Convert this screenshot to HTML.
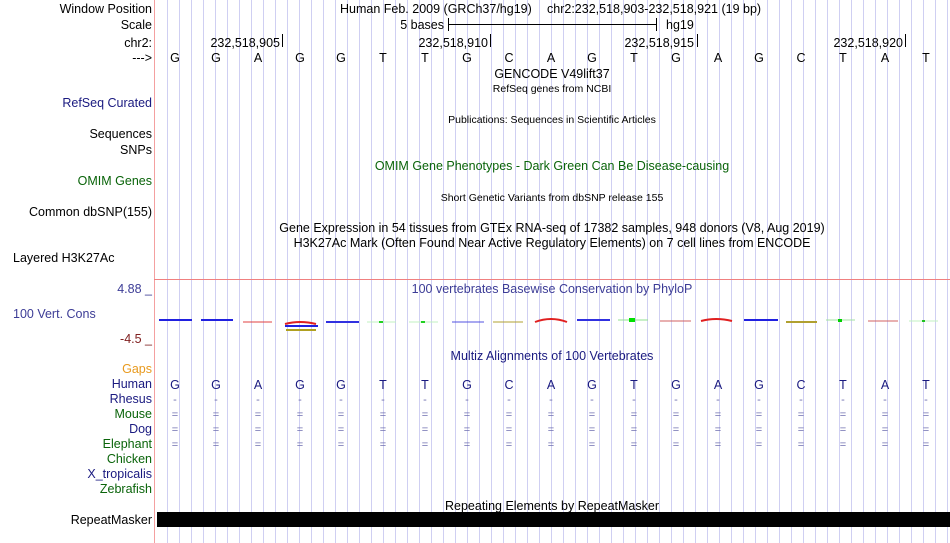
<!DOCTYPE html>
<html><head><meta charset="utf-8"><style>
html,body{margin:0;padding:0;background:#fff;}
svg{display:block;font-family:"Liberation Sans",Arial,sans-serif;font-size:12.5px;}
</style></head><body>
<svg width="950" height="543" xmlns="http://www.w3.org/2000/svg">
<g stroke="#cfcff2" stroke-width="1">
<line x1="167.5" y1="0" x2="167.5" y2="543"/><line x1="179.5" y1="0" x2="179.5" y2="543"/><line x1="191.5" y1="0" x2="191.5" y2="543"/><line x1="203.5" y1="0" x2="203.5" y2="543"/><line x1="215.5" y1="0" x2="215.5" y2="543"/><line x1="227.5" y1="0" x2="227.5" y2="543"/><line x1="239.5" y1="0" x2="239.5" y2="543"/><line x1="251.5" y1="0" x2="251.5" y2="543"/><line x1="263.5" y1="0" x2="263.5" y2="543"/><line x1="275.5" y1="0" x2="275.5" y2="543"/><line x1="287.5" y1="0" x2="287.5" y2="543"/><line x1="299.5" y1="0" x2="299.5" y2="543"/><line x1="311.5" y1="0" x2="311.5" y2="543"/><line x1="323.5" y1="0" x2="323.5" y2="543"/><line x1="335.5" y1="0" x2="335.5" y2="543"/><line x1="347.5" y1="0" x2="347.5" y2="543"/><line x1="359.5" y1="0" x2="359.5" y2="543"/><line x1="371.5" y1="0" x2="371.5" y2="543"/><line x1="383.5" y1="0" x2="383.5" y2="543"/><line x1="395.5" y1="0" x2="395.5" y2="543"/><line x1="407.5" y1="0" x2="407.5" y2="543"/><line x1="419.5" y1="0" x2="419.5" y2="543"/><line x1="431.5" y1="0" x2="431.5" y2="543"/><line x1="443.5" y1="0" x2="443.5" y2="543"/><line x1="455.5" y1="0" x2="455.5" y2="543"/><line x1="467.5" y1="0" x2="467.5" y2="543"/><line x1="479.5" y1="0" x2="479.5" y2="543"/><line x1="491.5" y1="0" x2="491.5" y2="543"/><line x1="503.5" y1="0" x2="503.5" y2="543"/><line x1="515.5" y1="0" x2="515.5" y2="543"/><line x1="527.5" y1="0" x2="527.5" y2="543"/><line x1="539.5" y1="0" x2="539.5" y2="543"/><line x1="551.5" y1="0" x2="551.5" y2="543"/><line x1="563.5" y1="0" x2="563.5" y2="543"/><line x1="575.5" y1="0" x2="575.5" y2="543"/><line x1="587.5" y1="0" x2="587.5" y2="543"/><line x1="599.5" y1="0" x2="599.5" y2="543"/><line x1="611.5" y1="0" x2="611.5" y2="543"/><line x1="623.5" y1="0" x2="623.5" y2="543"/><line x1="635.5" y1="0" x2="635.5" y2="543"/><line x1="647.5" y1="0" x2="647.5" y2="543"/><line x1="659.5" y1="0" x2="659.5" y2="543"/><line x1="671.5" y1="0" x2="671.5" y2="543"/><line x1="683.5" y1="0" x2="683.5" y2="543"/><line x1="695.5" y1="0" x2="695.5" y2="543"/><line x1="707.5" y1="0" x2="707.5" y2="543"/><line x1="719.5" y1="0" x2="719.5" y2="543"/><line x1="731.5" y1="0" x2="731.5" y2="543"/><line x1="743.5" y1="0" x2="743.5" y2="543"/><line x1="755.5" y1="0" x2="755.5" y2="543"/><line x1="767.5" y1="0" x2="767.5" y2="543"/><line x1="779.5" y1="0" x2="779.5" y2="543"/><line x1="791.5" y1="0" x2="791.5" y2="543"/><line x1="803.5" y1="0" x2="803.5" y2="543"/><line x1="815.5" y1="0" x2="815.5" y2="543"/><line x1="827.5" y1="0" x2="827.5" y2="543"/><line x1="839.5" y1="0" x2="839.5" y2="543"/><line x1="851.5" y1="0" x2="851.5" y2="543"/><line x1="863.5" y1="0" x2="863.5" y2="543"/><line x1="875.5" y1="0" x2="875.5" y2="543"/><line x1="887.5" y1="0" x2="887.5" y2="543"/><line x1="899.5" y1="0" x2="899.5" y2="543"/><line x1="911.5" y1="0" x2="911.5" y2="543"/><line x1="923.5" y1="0" x2="923.5" y2="543"/><line x1="935.5" y1="0" x2="935.5" y2="543"/><line x1="947.5" y1="0" x2="947.5" y2="543"/>
</g>
<line x1="154.5" y1="0" x2="154.5" y2="543" stroke="#f4a0a0"/>
<line x1="154" y1="279.5" x2="950" y2="279.5" stroke="#f08080"/>

<g text-anchor="end">
<text x="152" y="13">Window Position</text>
<text x="152" y="29">Scale</text>
<text x="152" y="47">chr2:</text>
<text x="152" y="62">---&gt;</text>
<text x="152" y="107" fill="#1a1a80">RefSeq Curated</text>
<text x="152" y="138">Sequences</text>
<text x="152" y="154">SNPs</text>
<text x="152" y="185" fill="#0a640a">OMIM Genes</text>
<text x="152" y="216">Common dbSNP(155)</text>
<text x="152" y="293" fill="#3c3c96">4.88 _</text>
<text x="152" y="343" fill="#802020">-4.5 _</text>
<text x="152" y="373" fill="#e89a1e">Gaps</text>
<text x="152" y="388" fill="#1a1a80">Human</text>
<text x="152" y="403" fill="#1a1a80">Rhesus</text>
<text x="152" y="418" fill="#0a640a">Mouse</text>
<text x="152" y="433" fill="#1a1a80">Dog</text>
<text x="152" y="448" fill="#0a640a">Elephant</text>
<text x="152" y="463" fill="#0a640a">Chicken</text>
<text x="152" y="478" fill="#1a1a80">X_tropicalis</text>
<text x="152" y="493" fill="#0a640a">Zebrafish</text>
<text x="152" y="524">RepeatMasker</text>
</g>
<text x="13" y="262">Layered H3K27Ac</text>
<text x="13" y="318" fill="#3c3c96">100 Vert. Cons</text>

<text x="340" y="13">Human Feb. 2009 (GRCh37/hg19)</text>
<text x="547" y="13">chr2:232,518,903-232,518,921 (19 bp)</text>
<text x="444" y="29" text-anchor="end">5 bases</text>
<g stroke="#000"><line x1="448" y1="24.5" x2="656" y2="24.5"/><line x1="448.5" y1="18" x2="448.5" y2="31"/><line x1="656.5" y1="18" x2="656.5" y2="31"/></g>
<text x="666" y="29">hg19</text>
<g text-anchor="end"><text x="280" y="47">232,518,905</text><text x="488" y="47">232,518,910</text><text x="694" y="47">232,518,915</text><text x="903" y="47">232,518,920</text></g>
<g stroke="#000"><line x1="282.5" y1="34" x2="282.5" y2="47"/><line x1="490.5" y1="34" x2="490.5" y2="47"/><line x1="697.5" y1="34" x2="697.5" y2="47"/><line x1="905.5" y1="34" x2="905.5" y2="47"/></g>
<g text-anchor="middle">
<text y="62"><tspan x="175">G</tspan><tspan x="216">G</tspan><tspan x="258">A</tspan><tspan x="300">G</tspan><tspan x="341">G</tspan><tspan x="383">T</tspan><tspan x="425">T</tspan><tspan x="467">G</tspan><tspan x="509">C</tspan><tspan x="551">A</tspan><tspan x="592">G</tspan><tspan x="634">T</tspan><tspan x="676">G</tspan><tspan x="718">A</tspan><tspan x="759">G</tspan><tspan x="801">C</tspan><tspan x="843">T</tspan><tspan x="885">A</tspan><tspan x="926">T</tspan></text>
<text x="552" y="78">GENCODE V49lift37</text>
<text x="552" y="92" font-size="10.5">RefSeq genes from NCBI</text>
<text x="552" y="123" font-size="10.5">Publications: Sequences in Scientific Articles</text>
<text x="552" y="170" fill="#0a640a">OMIM Gene Phenotypes - Dark Green Can Be Disease-causing</text>
<text x="552" y="201" font-size="10.5">Short Genetic Variants from dbSNP release 155</text>
<text x="552" y="232">Gene Expression in 54 tissues from GTEx RNA-seq of 17382 samples, 948 donors (V8, Aug 2019)</text>
<text x="552" y="247">H3K27Ac Mark (Often Found Near Active Regulatory Elements) on 7 cell lines from ENCODE</text>
<text x="552" y="293" fill="#3c3c96">100 vertebrates Basewise Conservation by PhyloP</text>
<text x="552" y="360" fill="#1a1a80">Multiz Alignments of 100 Vertebrates</text>
<text y="389" fill="#1a1a80"><tspan x="175">G</tspan><tspan x="216">G</tspan><tspan x="258">A</tspan><tspan x="300">G</tspan><tspan x="341">G</tspan><tspan x="383">T</tspan><tspan x="425">T</tspan><tspan x="467">G</tspan><tspan x="509">C</tspan><tspan x="551">A</tspan><tspan x="592">G</tspan><tspan x="634">T</tspan><tspan x="676">G</tspan><tspan x="718">A</tspan><tspan x="759">G</tspan><tspan x="801">C</tspan><tspan x="843">T</tspan><tspan x="885">A</tspan><tspan x="926">T</tspan></text>
<text y="403" fill="#7070b0" font-size="11"><tspan x="175">-</tspan><tspan x="216">-</tspan><tspan x="258">-</tspan><tspan x="300">-</tspan><tspan x="341">-</tspan><tspan x="383">-</tspan><tspan x="425">-</tspan><tspan x="467">-</tspan><tspan x="509">-</tspan><tspan x="551">-</tspan><tspan x="592">-</tspan><tspan x="634">-</tspan><tspan x="676">-</tspan><tspan x="718">-</tspan><tspan x="759">-</tspan><tspan x="801">-</tspan><tspan x="843">-</tspan><tspan x="885">-</tspan><tspan x="926">-</tspan></text>
<g fill="#7070b0" font-size="11">
<text y="418"><tspan x="175">=</tspan><tspan x="216">=</tspan><tspan x="258">=</tspan><tspan x="300">=</tspan><tspan x="341">=</tspan><tspan x="383">=</tspan><tspan x="425">=</tspan><tspan x="467">=</tspan><tspan x="509">=</tspan><tspan x="551">=</tspan><tspan x="592">=</tspan><tspan x="634">=</tspan><tspan x="676">=</tspan><tspan x="718">=</tspan><tspan x="759">=</tspan><tspan x="801">=</tspan><tspan x="843">=</tspan><tspan x="885">=</tspan><tspan x="926">=</tspan></text>
<text y="433"><tspan x="175">=</tspan><tspan x="216">=</tspan><tspan x="258">=</tspan><tspan x="300">=</tspan><tspan x="341">=</tspan><tspan x="383">=</tspan><tspan x="425">=</tspan><tspan x="467">=</tspan><tspan x="509">=</tspan><tspan x="551">=</tspan><tspan x="592">=</tspan><tspan x="634">=</tspan><tspan x="676">=</tspan><tspan x="718">=</tspan><tspan x="759">=</tspan><tspan x="801">=</tspan><tspan x="843">=</tspan><tspan x="885">=</tspan><tspan x="926">=</tspan></text>
<text y="448"><tspan x="175">=</tspan><tspan x="216">=</tspan><tspan x="258">=</tspan><tspan x="300">=</tspan><tspan x="341">=</tspan><tspan x="383">=</tspan><tspan x="425">=</tspan><tspan x="467">=</tspan><tspan x="509">=</tspan><tspan x="551">=</tspan><tspan x="592">=</tspan><tspan x="634">=</tspan><tspan x="676">=</tspan><tspan x="718">=</tspan><tspan x="759">=</tspan><tspan x="801">=</tspan><tspan x="843">=</tspan><tspan x="885">=</tspan><tspan x="926">=</tspan></text>
</g>
<text x="552" y="510">Repeating Elements by RepeatMasker</text>
</g>
<rect x="157" y="512" width="793" height="15" fill="#000"/>

<g stroke-width="2" fill="none">
<path d="M159 320 H192" stroke="#2020e0"/><path d="M201 320 H233" stroke="#2020e0"/>
<path d="M243 322 H272" stroke="#e04040" stroke-width="1"/>
<path d="M285 324 Q300 320 316 324" stroke="#e02020"/><path d="M285 326 H318" stroke="#2020e0"/><path d="M286 330 H316" stroke="#b0a020"/>
<path d="M326 322 H359" stroke="#3030e0"/>
<path d="M367 322 H396" stroke="#c0f0c0" stroke-width="1"/><rect x="379" y="321" width="4" height="2" fill="#20d020" stroke="none"/>
<path d="M409 322 H438" stroke="#c0f0c0" stroke-width="1"/><rect x="421" y="321" width="4" height="2" fill="#20d020" stroke="none"/>
<path d="M452 322 H484" stroke="#5050e0" stroke-width="1"/>
<path d="M493 322 H523" stroke="#b0a030" stroke-width="1"/>
<path d="M535 322 Q551 316 567 322" stroke="#e02020"/>
<path d="M577 320 H610" stroke="#3030e0"/>
<path d="M618 320 H648" stroke="#90e090" stroke-width="1"/><rect x="629" y="318" width="6" height="4" fill="#00e000" stroke="none"/>
<path d="M660 321 H691" stroke="#d06060" stroke-width="1"/>
<path d="M701 321 Q716 317 732 321" stroke="#e02020"/>
<path d="M744 320 H778" stroke="#2020e0"/>
<path d="M786 322 H817" stroke="#b0a030"/>
<path d="M826 320 H855" stroke="#a0e0a0" stroke-width="1"/><rect x="838" y="319" width="4" height="3" fill="#00d000" stroke="none"/>
<path d="M868 321 H898" stroke="#d06060" stroke-width="1"/>
<path d="M909 321 H938" stroke="#c0f0c0" stroke-width="1"/><rect x="922" y="320" width="3" height="2" fill="#20c020" stroke="none"/>
</g>
</svg>
</body></html>
